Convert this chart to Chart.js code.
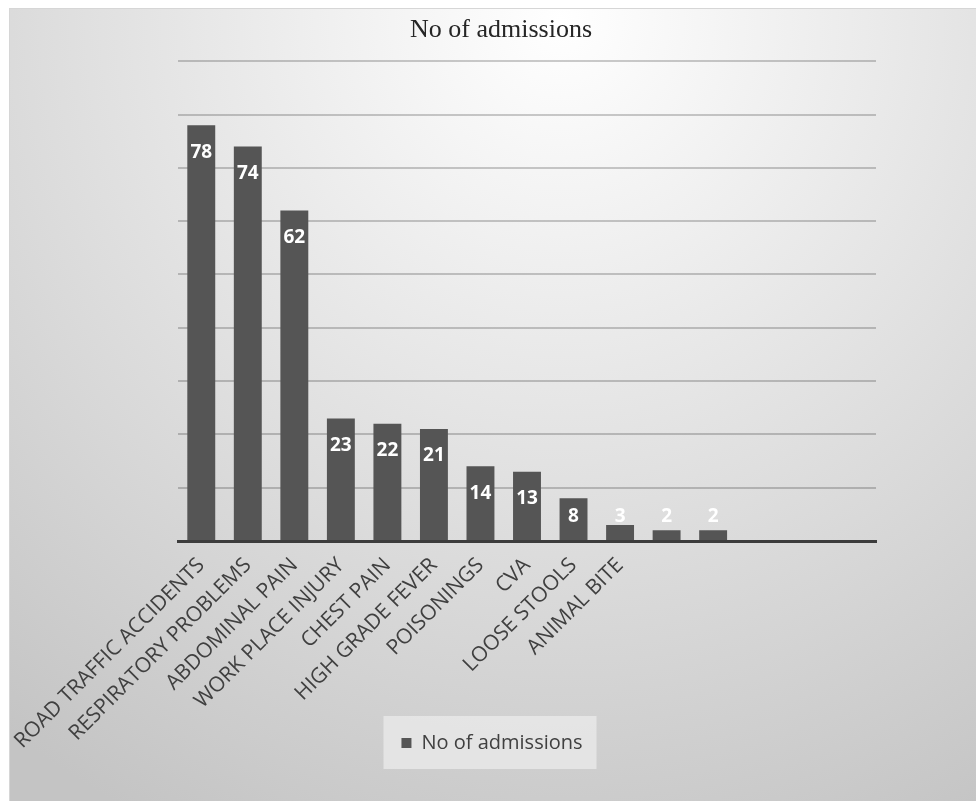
<!DOCTYPE html>
<html>
<head>
<meta charset="utf-8">
<script src="https://cdn.jsdelivr.net/npm/chart.js@4.4.0/dist/chart.umd.min.js"></script>
<style>
  html, body { margin: 0; padding: 0; background: #fff; }
  #wrap { width: 976px; height: 801px; }
</style>
</head>
<body>
<div id="wrap"><canvas id="admissionsChart"></canvas></div>
<script>
const categories = [
  'ROAD TRAFFIC ACCIDENTS', 'RESPIRATORY PROBLEMS', 'ABDOMINAL PAIN', 'WORK PLACE INJURY',
  'CHEST PAIN', 'HIGH GRADE FEVER', 'POISONINGS', 'CVA', 'LOOSE STOOLS', 'ANIMAL BITE',
  '', '', '', '', ''
];
const admissions = [78, 74, 62, 23, 22, 21, 14, 13, 8, 3, 2, 2, null, null, null];
const yTicks = [0, 10, 20, 30, 40, 50, 60, 70, 80, 90];

// gradient panel + legend box behind everything
const backdrop = {
  id: 'backdrop',
  afterLayout(chart) {
    // title sits a little right of the legend in the original
    if (chart.titleBlock) chart.titleBlock.left += 18;
    // legend overlaps the lower part of the long axis labels
    const lg = chart.legend;
    if (lg) { lg.top -= 38; lg.bottom -= 38; }
  },
  beforeDraw(chart) {
    const ctx = chart.ctx;
    const w = chart.width, h = chart.height;
    ctx.save();
    ctx.fillStyle = '#ffffff';
    ctx.fillRect(0, 0, w, h);
    const g = ctx.createRadialGradient(560, 20, 0, 560, 20, 900);
    g.addColorStop(0, '#ffffff');
    g.addColorStop(1, '#c4c4c4');
    ctx.fillStyle = g;
    ctx.fillRect(9, 8, w - 9, h - 8);
    ctx.strokeStyle = '#d6d6d6';
    ctx.lineWidth = 1;
    ctx.strokeRect(9.5, 8.5, w, h);

    const lg = chart.legend;
    if (lg && lg.legendHitBoxes && lg.legendHitBoxes.length) {
      const hb = lg.legendHitBoxes[0];
      const cy = hb.top + hb.height / 2;
      ctx.fillStyle = 'rgba(235,235,235,0.75)';
      ctx.fillRect(hb.left - 18, cy - 27, hb.width + 32, 53);
    }
    ctx.restore();
  }
};

// value labels on the bars
const barValues = {
  id: 'barValues',
  afterDatasetsDraw(chart) {
    const ctx = chart.ctx;
    const meta = chart.getDatasetMeta(0);
    ctx.save();
    ctx.fillStyle = '#ffffff';
    ctx.font = 'bold 19px "Open Sans"';
    ctx.textAlign = 'center';
    ctx.textBaseline = 'middle';
    meta.data.forEach((bar, i) => {
      const v = admissions[i];
      if (v === null) return;
      const y = Math.min(bar.y + 27, bar.base - 23);
      ctx.fillText(String(v), bar.x, y);
    });
    ctx.restore();
  }
};

new Chart(document.getElementById('admissionsChart'), {
  type: 'bar',
  data: {
    labels: categories,
    datasets: [{
      label: 'No of admissions',
      data: admissions,
      backgroundColor: '#555555',
      borderWidth: 0,
      barPercentage: 0.6,
      categoryPercentage: 1.0
    }]
  },
  options: {
    responsive: true,
    maintainAspectRatio: false,
    animation: false,
    layout: { padding: { left: 8, right: 0, top: 0, bottom: 0 } },
    plugins: {
      title: {
        display: true,
        text: 'No of admissions',
        color: '#262626',
        font: { family: '"Liberation Serif"', size: 26, weight: 'normal' },
        padding: { top: 15, bottom: 15 }
      },
      legend: {
        position: 'bottom',
        labels: {
          color: '#404040',
          font: { family: '"Open Sans"', size: 20 },
          boxWidth: 10,
          boxHeight: 10,
          padding: 10
        }
      },
      tooltip: { enabled: false }
    },
    scales: {
      x: {
        grid: { display: false },
        border: { display: true, color: '#3c3c3c', width: 3 },
        ticks: {
          autoSkip: false,
          maxRotation: 45,
          minRotation: 45,
          padding: 4,
          color: '#404040',
          font: { family: '"Open Sans"', size: 21 }
        },
        afterFit(scale) { scale.height = 220; }
      },
      y: {
        min: 0,
        max: 90,
        afterBuildTicks(scale) { scale.ticks = yTicks.map(v => ({ value: v })); },
        ticks: { display: false },
        border: { display: false },
        grid: { color: 'rgba(0,0,0,0.2)', lineWidth: 2, drawTicks: false },
        afterFit(scale) { scale.width = 170; }
      },
      yRight: {
        position: 'right',
        min: 0,
        max: 90,
        ticks: { display: false },
        border: { display: false },
        grid: { display: false, drawTicks: false },
        afterFit(scale) { scale.width = 100; }
      }
    }
  },
  plugins: [backdrop, barValues]
});
</script>
</body>
</html>
